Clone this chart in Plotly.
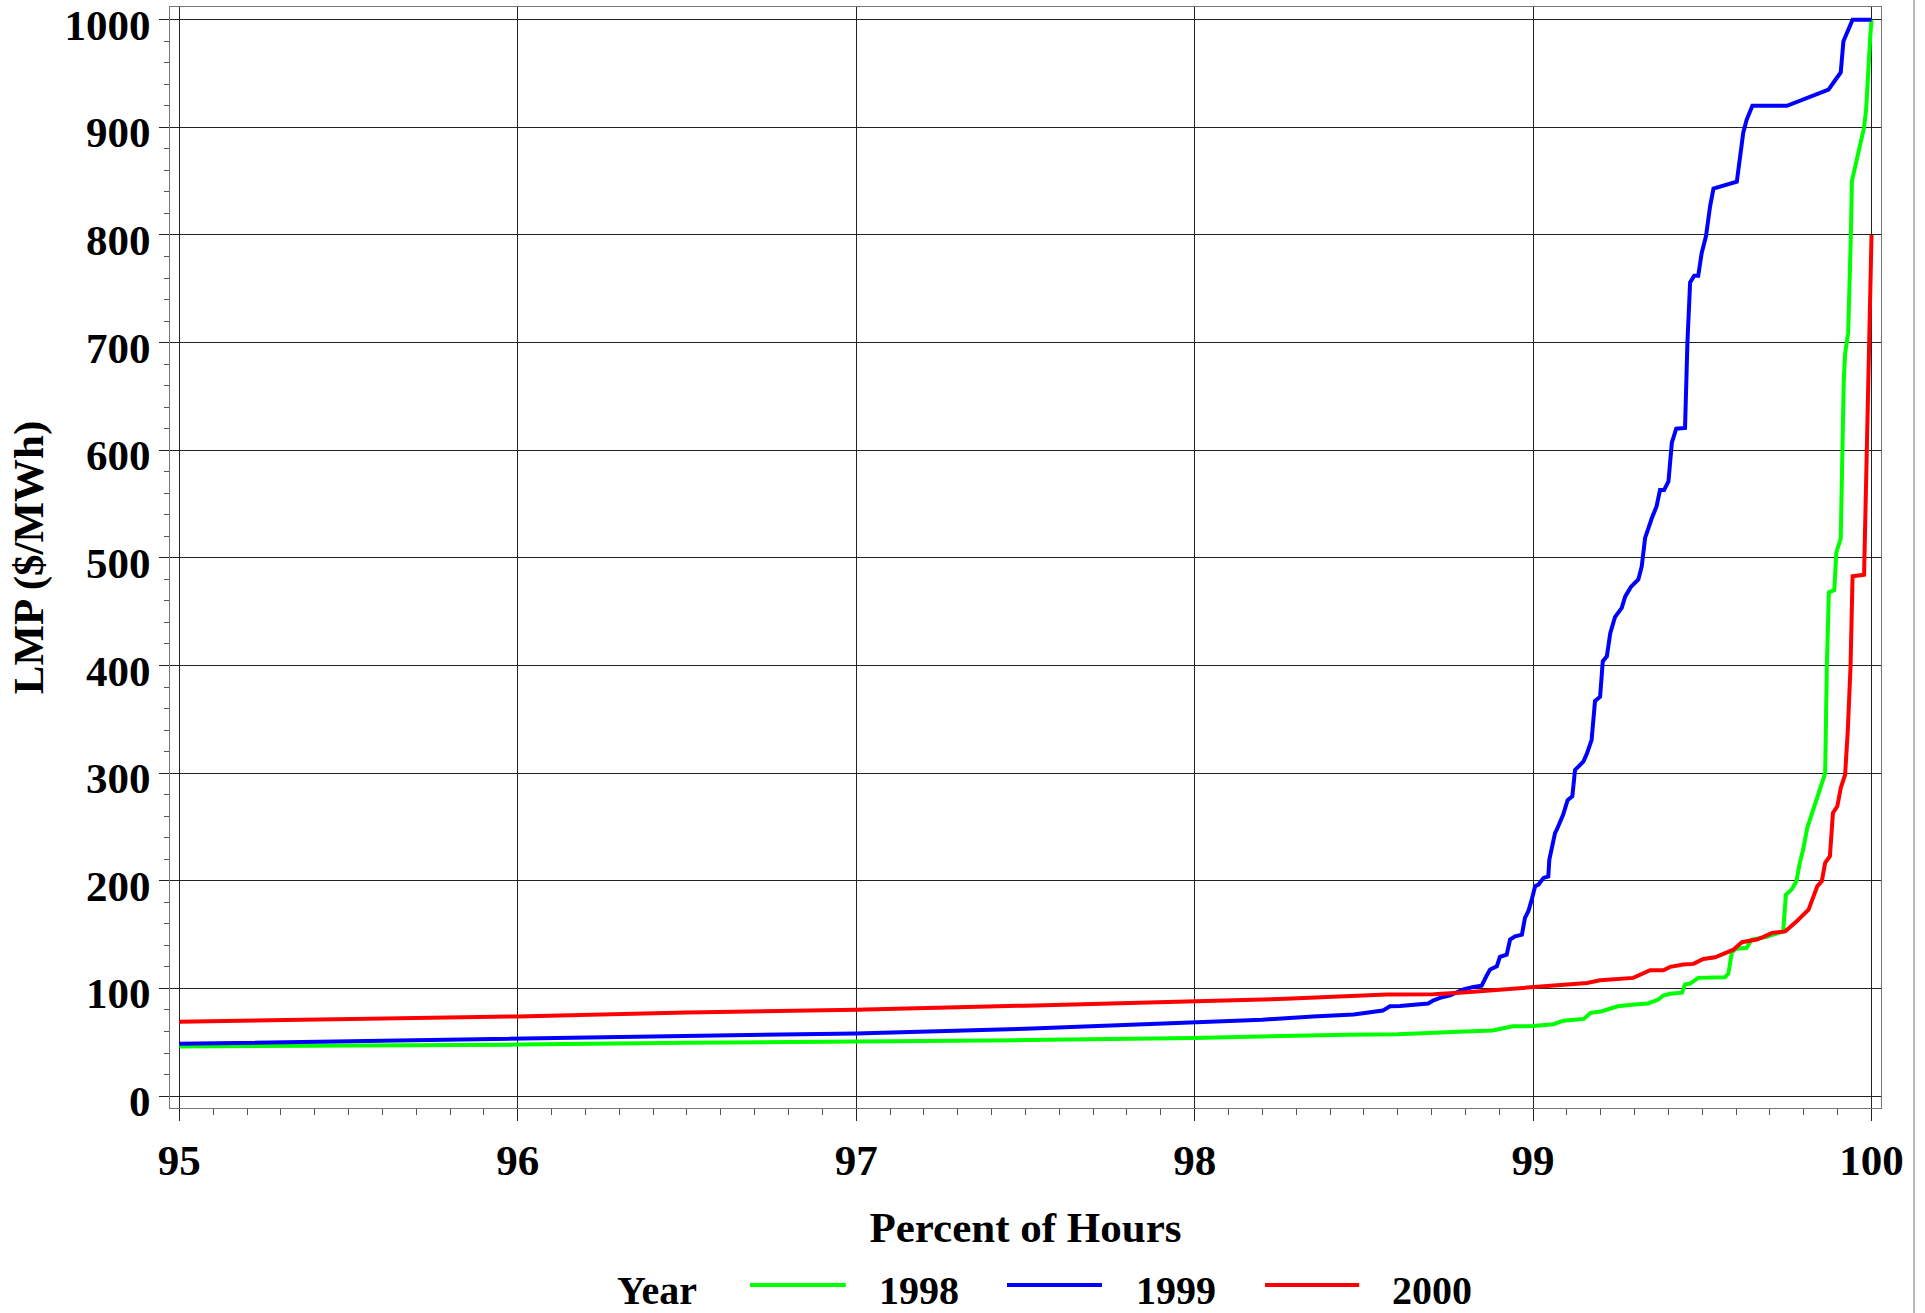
import plotly.graph_objects as go

# ---------------- data ----------------
x_1998 = [95.0, 95.5, 96.0, 96.5, 97.0, 97.5, 98.0, 98.25, 98.45, 98.6, 98.75, 98.8, 98.88,
          98.9, 98.94, 99.0, 99.06, 99.09, 99.15, 99.17, 99.2, 99.22, 99.25, 99.3, 99.34,
          99.37, 99.385, 99.405, 99.44, 99.449, 99.464, 99.488, 99.567, 99.577, 99.587,
          99.597, 99.631, 99.646, 99.69, 99.739, 99.747, 99.764, 99.778, 99.788, 99.798,
          99.81, 99.863, 99.868, 99.874, 99.89, 99.896, 99.909, 99.913, 99.918, 99.922,
          99.931, 99.939, 99.942, 99.978, 99.984, 99.996, 100.0]
y_1998 = [46, 46.8, 47.8, 49.5, 50.3, 52, 54, 56, 57, 57.5, 58.7, 60, 61,
          62.4, 64.8, 65, 66.7, 70, 71.7, 77.3, 78.5, 80.4, 83.4, 85, 86,
          89.6, 93.4, 95, 96, 103.6, 104.5, 109.8, 110.4, 113.8, 133,
          136.7, 137.7, 145.4, 147.9, 153, 187, 192, 199.5, 216.6, 229,
          249, 300, 400, 468, 470, 505, 518, 600, 665, 690,
          709, 800, 850, 900, 916, 983, 1000]

x_1999 = [95.0, 95.5, 96.0, 96.5, 97.0, 97.5, 98.0, 98.2, 98.35, 98.47, 98.556, 98.577, 98.607,
          98.656, 98.69, 98.706, 98.725, 98.755, 98.775, 98.794, 98.824, 98.848, 98.863,
          98.873, 98.893, 98.902, 98.922, 98.932, 98.947, 98.967, 98.976, 98.986, 98.996,
          99.006, 99.016, 99.031, 99.045, 99.048, 99.065, 99.07, 99.089, 99.102, 99.116,
          99.124, 99.134, 99.149, 99.16, 99.173, 99.183, 99.198, 99.206, 99.218, 99.228,
          99.242, 99.262, 99.272, 99.289, 99.311, 99.321, 99.331, 99.351, 99.365, 99.375,
          99.387, 99.4, 99.41, 99.423, 99.449, 99.456, 99.464, 99.476, 99.488, 99.498,
          99.511, 99.523, 99.533, 99.602, 99.611, 99.621, 99.631, 99.648, 99.75, 99.828,
          99.873, 99.893, 99.909, 99.917, 99.944, 100.0]
y_1999 = [48.5, 50.8, 53.1, 55.5, 58.2, 62.5, 68.2, 71, 74, 75.7, 79.4, 83.4, 83.6,
          85, 86, 89, 91.2, 93.6, 95.9, 99, 101.4, 102.6, 112,
          117.5, 120.6, 129.3, 131.4, 145.4, 148.4, 150, 165.5, 171.7, 182.5,
          195, 196.5, 202.7, 204, 219.7, 244.5, 247.5, 261.5, 275, 278.5,
          303, 306, 311, 319, 331, 367, 371, 404, 408.5, 430,
          445, 453.5, 464, 473, 480, 492, 518.5, 537, 548, 563,
          563, 571, 607, 620, 620.7, 700, 756, 762, 762, 783,
          799, 826.6, 843, 849.5, 873, 895, 907, 920, 920, 930,
          935, 944, 951, 980, 1000, 1000]

x_2000 = [95.0, 95.5, 96.0, 96.5, 97.0, 97.5, 98.0, 98.27, 98.567, 98.706, 98.804, 98.902,
          99.001, 99.08, 99.159, 99.198, 99.296, 99.346, 99.385, 99.405, 99.444, 99.474,
          99.503, 99.538, 99.562, 99.592, 99.617, 99.661, 99.681, 99.706, 99.745, 99.76,
          99.779, 99.814, 99.826, 99.84, 99.853, 99.863, 99.877, 99.886, 99.899, 99.909,
          99.922, 99.93, 99.938, 99.944, 99.978, 99.986, 99.993, 100.0]
y_2000 = [69, 71.5, 74, 77.6, 80.1, 84, 88, 90.3, 94.3, 94.6, 96.4, 98.9,
          101.4, 103.3, 105.1, 107.6, 109.8, 116.9, 116.9, 120, 122.2, 122.8,
          127.4, 128.9, 132.4, 136, 142.9, 145.4, 147.9, 151.6, 153, 157.7,
          162.4, 173.2, 182.5, 195, 199.5, 216.6, 222.8, 263, 269.2, 286.3,
          298.7, 340.5, 399.3, 482.9, 484.4, 600, 665, 800]

years = ["1998", "1999", "2000"]
colors = ["#00ff00", "#0000ff", "#ff0000"]
series_x = [x_1998, x_1999, x_2000]
series_y = [y_1998, y_1999, y_2000]

x_ticks = [95, 96, 97, 98, 99, 100]
y_ticks = [0, 100, 200, 300, 400, 500, 600, 700, 800, 900, 1000]

FONT = "Liberation Serif"
FS = 43
LEG_FS = 40

fig = go.Figure()
for yr, c, xs, ys in zip(years, colors, series_x, series_y):
    fig.add_trace(go.Scatter(x=xs, y=ys, mode="lines", name=yr,
                             line=dict(color=c, width=4), showlegend=False))

axis_common = dict(
    showline=True, linecolor="#777777", linewidth=1, mirror=True,
    showgrid=True, gridcolor="#222222", gridwidth=1,
    zeroline=False, ticks="outside", tickcolor="#222222", tickwidth=1,
    tickfont=dict(family=FONT, size=FS, color="black", weight="bold"),
    ticklabeloverflow="allow",
)

fig.update_xaxes(
    range=[94.9725, 100.028], tickvals=x_ticks, ticktext=[str(v) for v in x_ticks],
    ticklen=12, ticklabelstandoff=2,
    minor=dict(dtick=0.1, ticks="outside", ticklen=6, tickcolor="#555555", showgrid=False),
    title=dict(text="Percent of Hours", font=dict(family=FONT, size=FS, color="black", weight="bold"),
               standoff=29),
    **axis_common,
)
fig.update_yaxes(
    range=[-11.1, 1011.8], tickvals=y_ticks, ticktext=[str(v) for v in y_ticks],
    ticklen=10, ticklabelstandoff=0, ticklabelshift=5,
    minor=dict(dtick=20, ticks="outside", ticklen=5, tickcolor="#555555", showgrid=False),
    title=dict(text="LMP ($/MWh)", font=dict(family=FONT, size=FS, color="black", weight="bold"),
               standoff=7),
    **axis_common,
)

# ---- custom legend (long line samples, like the reference) ----
legend_text_x = [0.4377, 0.5877, 0.7376]
legend_line_x = [(0.339, 0.395), (0.4892, 0.5447), (0.640, 0.695)]
leg_y_line = -0.1607
leg_y_text = -0.1655
annotations = [dict(text="Year", x=0.2846, y=leg_y_text, xref="paper", yref="paper",
                    showarrow=False, xanchor="center", yanchor="middle",
                    font=dict(family=FONT, size=LEG_FS, color="black", weight="bold"))]
shapes = []
for yr, c, tx, (lx0, lx1) in zip(years, colors, legend_text_x, legend_line_x):
    annotations.append(dict(text=yr, x=tx, y=leg_y_text, xref="paper", yref="paper",
                            showarrow=False, xanchor="center", yanchor="middle",
                            font=dict(family=FONT, size=LEG_FS, color="black", weight="bold")))
    shapes.append(dict(type="line", xref="paper", yref="paper", x0=lx0, x1=lx1,
                       y0=leg_y_line, y1=leg_y_line, line=dict(color=c, width=4)))

# thin border line at the right edge of the picture
shapes.append(dict(type="line", xref="paper", yref="paper", x0=1.0193, x1=1.0193,
                   y0=-0.19, y1=1.01, line=dict(color="#777777", width=1)))

fig.update_layout(
    width=1925, height=1313,
    margin=dict(l=170, r=44, t=7, b=204.5, autoexpand=False),
    paper_bgcolor="white", plot_bgcolor="white",
    annotations=annotations, shapes=shapes,
    font=dict(family=FONT, color="black"),
)

fig.write_html("out.html")
